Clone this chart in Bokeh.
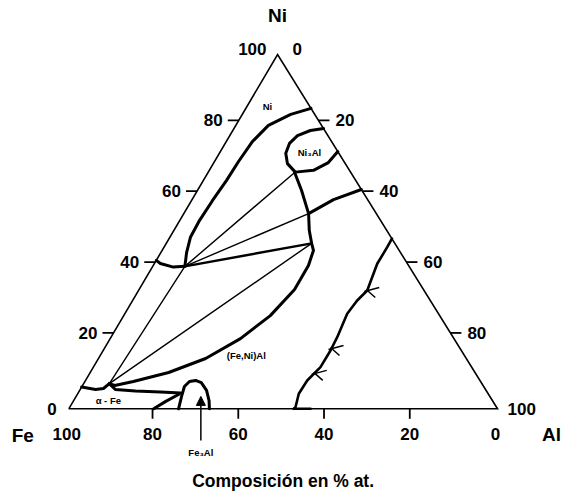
import numpy as np
from bokeh.plotting import figure
from bokeh.models import Range1d, Arrow, NormalHead
from bokeh.core.properties import value
from bokeh.embed import file_html
from bokeh.resources import INLINE

# Fe-Ni-Al isothermal section. Every boundary is given as at.% Al and at.% Ni
# (Fe is the balance).

# gamma (Ni) solvus
gamma_al = [15.2, 11.3, 7.6, 6.1, 5.6, 5.4, 4.9, 4.6, 4.8, 6.0, 7.5]
gamma_ni = [84.8, 83.1, 80.0, 75.4, 69.8, 64.4, 58.8, 53.2, 48.4, 44.1, 40.2]

# alpha/gamma boundary near 40 % Ni
agamma_al = [0.0, 1.4, 4.9, 7.5]
agamma_ni = [41.9, 41.0, 40.0, 40.2]

# Ni3Al field, closed by the Fe = 0 edge
ni3al_al = [20.9, 18.1, 15.8, 15.0, 15.5, 17.3, 20.3, 24.3, 26.7, 27.4]
ni3al_ni = [79.1, 78.55, 77.1, 74.9, 72.1, 69.2, 66.8, 67.3, 69.5, 72.6]

# gamma' / beta boundary running down to the alpha-Fe corner
beta_al = [20.2, 24.3, 29.1, 31.6, 33.9, 35.3, 36.2, 36.25, 34.2, 30.4, 25.0, 18.3, 11.3, 7.5, 6.0]
beta_ni = [66.7, 61.6, 55.1, 50.3, 46.7, 44.7, 40.45, 33.7, 26.3, 19.8, 14.2, 10.25, 7.7, 6.6, 7.1]

# three-phase line reaching the Fe = 0 edge
tri_al = [29.1, 33.0, 38.1]
tri_ni = [55.1, 59.05, 61.9]

# alpha-Fe field
alpha_left_al = [0.0, 3.6, 5.3, 6.0]
alpha_left_ni = [6.15, 5.45, 5.73, 7.1]
alpha_top_al = [6.0, 8.2, 13.1, 19.1, 23.9]
alpha_top_ni = [7.1, 5.45, 5.0, 4.75, 4.45]
alpha_low_al = [19.8, 21.6, 23.7]
alpha_low_ni = [0.0, 2.1, 4.1]

# Fe3Al dome
fe3al_al = [25.6, 24.6, 23.9, 24.4, 25.7, 27.3, 29.6, 31.6, 32.8]
fe3al_ni = [0.0, 3.5, 6.3, 7.7, 8.0, 7.4, 5.2, 2.3, 0.0]

# Al-rich limit of the beta field, with hatch marks
rich_al = [52.0, 52.06, 52.01, 53.35, 52.38, 51.88, 52.77, 53.03, 52.99, 51.72, 51.59, 52.66, 52.5]
rich_ni = [48.0, 45.61, 40.93, 33.39, 30.57, 26.81, 20.21, 16.46, 11.74, 7.99, 4.23, 0.45, 0.0]
rich_base_al = [52.5, 56.4]
rich_base_ni = [0.0, 0.0]
hatch_al = [53.35, 53.0, 52.5]
hatch_ni = [33.4, 17.0, 10.0]

# tie lines (start Al, start Ni, end Al, end Ni)
ties_thin = [
    (7.5, 40.2, 20.2, 66.7),
    (7.5, 40.2, 29.1, 55.1),
    (6.0, 7.1, 7.5, 40.2),
    (6.0, 7.1, 33.9, 46.7),
]
ties_thick = [(7.5, 40.2, 33.9, 46.7)]

# phase labels: text, Al, Ni
phase_labels = [
    ("Ni", 4.8, 85.3),
    ("Ni\u2083Al", 20.9, 72.35),
    ("(Fe,Ni)Al", 34.1, 15.0),
    ("\u03b1 - Fe", 8.1, 2.3),
]

# arrow pointing at Fe3Al
fe3al_arrow_al = 29.1
fe3al_arrow_ni = (-8.95, 3.5)

tick_values = [0, 20, 40, 60, 80, 100]
tick_labels = ["0", "20", "40", "60", "80", "100"]

# ---------------------------------------------------------------------------
W, H = 562, 498
X_RANGE = (-15.93, 115.16)
Y_RANGE = (-25.32, 115.24)
SKEW = 0.487           # where the Ni apex sits along the base (0..1)
sx = W / (X_RANGE[1] - X_RANGE[0])   # px per unit, horizontal
sy = H / (Y_RANGE[1] - Y_RANGE[0])   # px per unit, vertical

SANS = value("'Liberation Sans', Arial, sans-serif")


def proj(al, ni):
    al = np.asarray(al, dtype=float)
    ni = np.asarray(ni, dtype=float)
    return al + SKEW * ni, ni


p = figure(width=W, height=H, x_range=Range1d(*X_RANGE), y_range=Range1d(*Y_RANGE),
           x_axis_type=None, y_axis_type=None, output_backend="svg",
           toolbar_location=None, min_border=0, outline_line_color=None,
           background_fill_color="white", border_fill_color="white")

# triangle frame
fx, fy = proj([0, 100, 0, 0], [0, 0, 100, 0])
p.line(fx, fy, line_color="black", line_width=1.6, line_join="miter")


def curve(al, ni, w):
    x, y = proj(al, ni)
    p.line(x, y, line_color="black", line_width=w, line_join="round", line_cap="round")


THICK = 3.0
curve(gamma_al, gamma_ni, THICK)
curve(agamma_al, agamma_ni, THICK)
curve(ni3al_al, ni3al_ni, THICK)
curve(beta_al, beta_ni, THICK)
curve(tri_al, tri_ni, THICK)
curve(alpha_left_al, alpha_left_ni, THICK)
curve(alpha_top_al, alpha_top_ni, THICK)
curve(alpha_low_al, alpha_low_ni, THICK)
curve(fe3al_al, fe3al_ni, THICK)
curve(rich_al, rich_ni, 2.6)
curve(rich_base_al, rich_base_ni, 2.6)

for a0, n0, a1, n1 in ties_thin:
    curve([a0, a1], [n0, n1], 1.4)
for a0, n0, a1, n1 in ties_thick:
    curve([a0, a1], [n0, n1], 2.4)

# hatch marks on the Al-rich beta boundary
hx, hy = proj(hatch_al, hatch_ni)
p.segment(hx - 3 / sx, hy - 1 / sy, hx + 12 / sx, hy + 3 / sy, line_color="black", line_width=1.5)
p.segment(hx - 1 / sx, hy + 1 / sy, hx + 8 / sx, hy - 7 / sy, line_color="black", line_width=1.5)

# ticks: side marks sit a few pixels above their nominal height, bottom ones
# a little to the left, as printed on the original scale
LIFT = 5 / sy          # in Ni units
SHIFT = -2 / sx        # in x units
TICK = 11

inner = tick_values[1:-1]
lx, ly = proj([0] * len(inner), [v + LIFT for v in inner])            # Ni side
p.segment(lx, ly, lx - TICK / sx, ly, line_color="black", line_width=1.8)
rx, ry = proj([v - LIFT for v in inner], [100 - v + LIFT for v in inner])  # Al side
p.segment(rx, ry, rx + TICK / sx, ry, line_color="black", line_width=1.8)
bx, by = proj([100 - v for v in inner], [0] * len(inner))             # Fe side
p.segment(bx + SHIFT, by, bx + SHIFT, by - 10 / sy, line_color="black", line_width=1.8)

tick_style = dict(text_font=SANS, text_font_size="17px", text_font_style="bold",
                  text_color="black", text_baseline="middle")

lift_left = [0 if v == 0 else LIFT for v in tick_values]
x, y = proj([0] * 6, [v + d for v, d in zip(tick_values, lift_left)])
p.text(x, y, text=tick_labels, text_align="right",
       x_offset=[-12, -16, -16, -16, -16, -14], **tick_style)

lift_right = [0 if v == 100 else LIFT for v in tick_values]
x, y = proj([v - d for v, d in zip(tick_values, lift_right)],
            [100 - v + d for v, d in zip(tick_values, lift_right)])
p.text(x, y, text=tick_labels, text_align="left",
       x_offset=[18, 17, 17, 17, 17, 10], **tick_style)

x, y = proj([100 - v for v in tick_values], [0] * 6)
p.text(x + SHIFT, y, text=tick_labels, text_align="center", y_offset=25, **tick_style)

# component names
corner_style = dict(text_font=SANS, text_font_size="19px", text_font_style="bold",
                    text_color="black", text_baseline="middle", text_align="center")
x, y = proj([0], [100])
p.text(x, y, text=["Ni"], y_offset=-39, **corner_style)
x, y = proj([0], [0])
p.text(x, y, text=["Fe"], x_offset=-46, y_offset=27, **corner_style)
x, y = proj([100], [0])
p.text(x, y, text=["Al"], x_offset=54, y_offset=26, **corner_style)
x, y = proj([50], [0])
p.text(x, y, text=["Composici\u00f3n en % at."], y_offset=72,
       **{**corner_style, "text_font_size": "17.5px"})

# phase-field labels
small = dict(text_font=SANS, text_font_size="9.5px", text_font_style="bold",
             text_color="black", text_baseline="middle", text_align="center")
x, y = proj([t[1] for t in phase_labels], [t[2] for t in phase_labels])
p.text(x, y, text=[t[0] for t in phase_labels], **small)

ax0, ay0 = proj([fe3al_arrow_al], [fe3al_arrow_ni[0]])
ax1, ay1 = proj([fe3al_arrow_al], [fe3al_arrow_ni[1]])
p.add_layout(Arrow(end=NormalHead(size=9, fill_color="black", line_color="black", line_width=1),
                   x_start=float(ax1[0]), y_start=float(ay0[0]),
                   x_end=float(ax1[0]), y_end=float(ay1[0]),
                   line_color="black", line_width=1.5))
p.text([float(ax1[0])], [float(ay0[0])], text=["Fe\u2083Al"], y_offset=12, **small)

open("out.html", "w").write(file_html(p, INLINE))
